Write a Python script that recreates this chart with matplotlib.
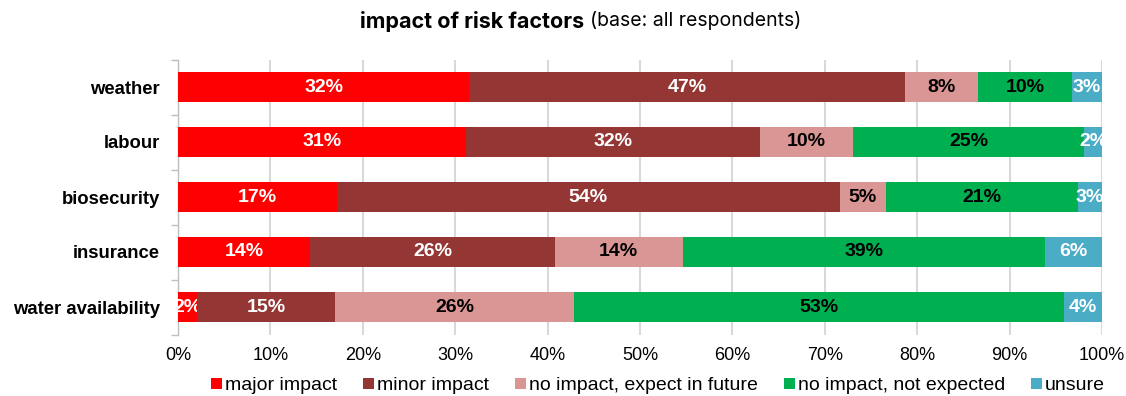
import numpy as np
import matplotlib.pyplot as plt

categories = ["weather", "labour", "biosecurity", "insurance", "water availability"]
series = ["major impact", "minor impact", "no impact, expect in future",
          "no impact, not expected", "unsure"]

major = [31.5, 31.2, 17.2, 14.3, 2.1]
minor = [47.2, 31.8, 54.4, 26.5, 14.9]
future = [7.9, 10.0, 5.0, 13.8, 25.9]
not_expected = [10.1, 25.1, 20.8, 39.2, 53.0]
unsure = [3.3, 1.9, 2.6, 6.2, 4.1]

colors = ["#FF0000", "#943634", "#DA9694", "#00B050", "#4BACC6"]
text_colors = ["white", "white", "black", "black", "white"]

plt.rcParams["font.family"] = ["Liberation Sans", "DejaVu Sans"]

fig = plt.figure(figsize=(11.26, 3.96), dpi=100)
ax = fig.add_axes([178 / 1126, 1 - 334.5 / 396, 924 / 1126, 275 / 396])

y = np.arange(len(categories))
left = np.zeros(len(categories))
for name, vals, c, tc in zip(series, [major, minor, future, not_expected, unsure],
                             colors, text_colors):
    vals = np.array(vals)
    bars = ax.barh(y, vals, left=left, height=0.55, color=c, label=name,
                   edgecolor="none", zorder=3)
    ax.bar_label(bars, labels=[f"{v:.0f}%" for v in vals], label_type="center",
                 color=tc, fontsize=14, fontweight="bold")
    left += vals

ax.set_xlim(0, 100)
ax.set_ylim(len(categories) - 0.5, -0.5)
ax.set_xticks(np.arange(0, 101, 10))
ax.set_xticklabels([f"{t}%" for t in range(0, 101, 10)], fontsize=13)
ax.tick_params(axis="x", length=0, pad=9)
ax.grid(axis="x", color="#d9d9d9", linewidth=1.5, zorder=0)

ax.set_yticks(y)
ax.set_yticklabels(categories, fontsize=13.3, fontweight="bold")
ax.tick_params(axis="y", length=0, pad=13)
ax.set_yticks(np.arange(-0.5, len(categories)), minor=True)
ax.tick_params(axis="y", which="minor", length=5, color="#bfbfbf", width=1)

for s in ["top", "right", "bottom"]:
    ax.spines[s].set_visible(False)
ax.spines["left"].set_color("#bfbfbf")
ax.spines["left"].set_linewidth(1)

fig.text(584 / 1126, 1 - 21 / 396, "impact of risk factors", ha="right", va="center",
         fontsize=15.5, fontweight="bold", family=["Inter", "DejaVu Sans"])
fig.text(590 / 1126, 1 - 21 / 396, "(base: all respondents)", ha="left", va="center",
         fontsize=14, family=["Inter", "DejaVu Sans"])

fig.legend(loc="center", bbox_to_anchor=(658 / 1126, 1 - 386 / 396), ncol=5,
           frameon=False, fontsize=14, handlelength=0.55, handleheight=0.55,
           handletextpad=0.15, columnspacing=1.35, borderaxespad=0, borderpad=0)

fig.savefig("out.png", dpi=100)
